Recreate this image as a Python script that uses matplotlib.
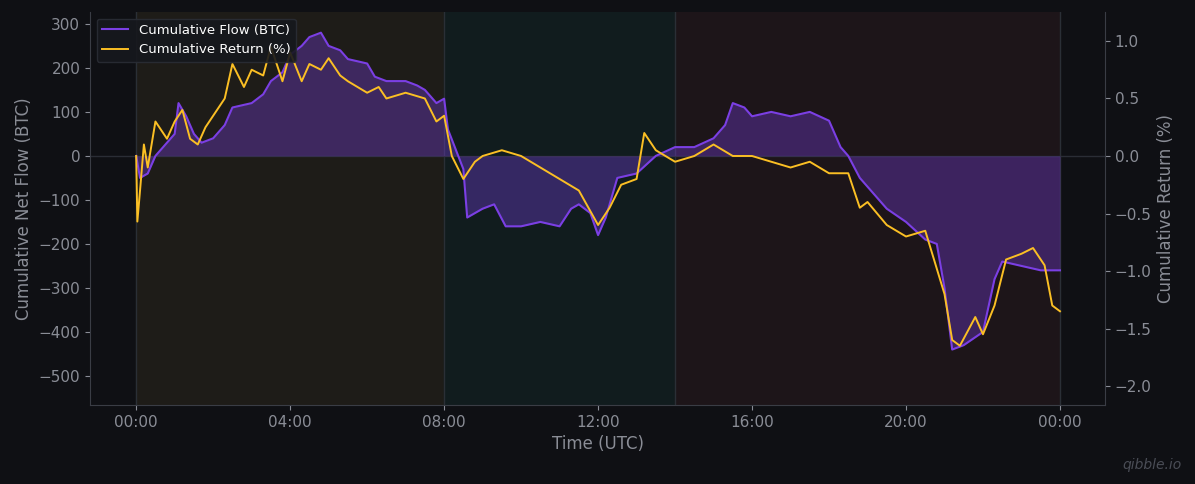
import matplotlib
matplotlib.use("Agg")
import matplotlib.pyplot as plt
import numpy as np

flow_t = [0.0,0.1,0.3,0.5,1.0,1.1,1.3,1.5,1.7,2.0,2.3,2.5,3.0,3.3,3.5,3.8,4.0,4.3,4.5,4.8,5.0,5.3,5.5,6.0,6.2,6.5,7.0,7.3,7.5,7.8,8.0,8.1,8.5,8.6,9.0,9.3,9.6,10.0,10.5,11.0,11.3,11.5,11.8,12.0,12.2,12.5,13.0,13.5,14.0,14.5,15.0,15.3,15.5,15.8,16.0,16.5,17.0,17.5,18.0,18.3,18.5,18.8,19.0,19.5,20.0,20.5,20.8,21.0,21.2,21.5,22.0,22.3,22.5,23.0,23.5,24.0]
flow_v = [0,-50,-40,0,50,120,90,50,30,40,70,110,120,140,170,190,230,250,270,280,250,240,220,210,180,170,170,160,150,120,130,60,-30,-140,-120,-110,-160,-160,-150,-160,-120,-110,-130,-180,-140,-50,-40,0,20,20,40,70,120,110,90,100,90,100,80,20,0,-50,-70,-120,-150,-190,-200,-300,-440,-430,-400,-280,-240,-250,-260,-260]
ret_t = [0.0,0.03,0.1,0.2,0.3,0.5,0.7,0.8,1.0,1.2,1.4,1.6,1.8,2.0,2.3,2.5,2.8,3.0,3.3,3.5,3.8,4.0,4.3,4.5,4.8,5.0,5.3,5.5,6.0,6.3,6.5,7.0,7.5,7.8,8.0,8.2,8.5,8.8,9.0,9.5,10.0,10.5,11.0,11.5,12.0,12.3,12.6,13.0,13.2,13.5,14.0,14.5,15.0,15.5,16.0,16.5,17.0,17.5,18.0,18.5,18.8,19.0,19.5,20.0,20.5,21.0,21.2,21.4,21.8,22.0,22.3,22.6,23.0,23.3,23.6,23.8,24.0]
ret_v = [0,-0.57,-0.3,0.1,-0.1,0.3,0.2,0.15,0.3,0.4,0.15,0.1,0.25,0.35,0.5,0.8,0.6,0.75,0.7,0.95,0.65,0.9,0.65,0.8,0.75,0.85,0.7,0.65,0.55,0.6,0.5,0.55,0.5,0.3,0.35,0.0,-0.2,-0.05,0.0,0.05,0.0,-0.1,-0.2,-0.3,-0.6,-0.45,-0.25,-0.2,0.2,0.05,-0.05,0.0,0.1,0.0,0.0,-0.05,-0.1,-0.05,-0.15,-0.15,-0.45,-0.4,-0.6,-0.7,-0.65,-1.2,-1.6,-1.65,-1.4,-1.55,-1.3,-0.9,-0.85,-0.8,-0.95,-1.3,-1.35]
sessions = [(0, 8, '#1e1c18'), (8, 14, '#111c1e'), (14, 24, '#1d1519')]
xticks = [0, 4, 8, 12, 16, 20, 24]
xticklabels = ['00:00','04:00','08:00','12:00','16:00','20:00','00:00']

bg = '#0f1014'
tc = '#8a8d96'
fig = plt.figure(figsize=(11.95, 4.84), dpi=100, facecolor=bg)
ax = fig.add_axes([90/1195, 1-405/484, (1105-90)/1195, (405-12)/484], facecolor=bg)
for a, b, c in sessions:
    ax.axvspan(a, b, color=c, zorder=0)
    ax.axvline(a, color='#2a2f36', lw=1, zorder=1)
ax.axvline(24, color='#2a2f36', lw=1, zorder=1)
ax.axhline(0, color='#2a2d35', lw=1, zorder=1)
ax.fill_between(flow_t, flow_v, 0, color='#7b3fe4', alpha=0.35, lw=0, zorder=2)
l1, = ax.plot(flow_t, flow_v, color='#7b3fe4', lw=1.5, zorder=3, label='Cumulative Flow (BTC)')
ax.set_xlim(-1.2, 25.17)
ax.set_ylim(-566, 327)
ax.set_yticks([-500,-400,-300,-200,-100,0,100,200,300])
ax.set_xticks(xticks)
ax.set_xticklabels(xticklabels)
ax.set_xlabel('Time (UTC)', color=tc, fontsize=12)
ax.set_ylabel('Cumulative Net Flow (BTC)', color=tc, fontsize=12)
ax2 = ax.twinx()
l2, = ax2.plot(ret_t, ret_v, color='#fbbf24', lw=1.4, zorder=4, label='Cumulative Return (%)')
ax2.set_ylim(-2.165, 1.252)
ax2.set_ylabel('Cumulative Return (%)', color=tc, fontsize=12)
for a in (ax, ax2):
    a.tick_params(colors=tc, labelsize=11)
    for s in a.spines.values():
        s.set_visible(False)
ax2.spines['right'].set_visible(True)
ax2.spines['right'].set_color('#3a3d45')
ax2.spines['left'].set_visible(True)
ax2.spines['left'].set_color('#3a3d45')
ax2.spines['bottom'].set_visible(True)
ax2.spines['bottom'].set_color('#3a3d45')
leg = ax2.legend(handles=[l1, l2], loc='upper left', fontsize=9.5, facecolor='#16181d', edgecolor='#2a2d35', labelcolor='white', framealpha=0.9)
fig.text(1182/1195, 1-465/484, 'qibble.io', color='#4a4d56', fontsize=10, style='italic', ha='right', va='center')
fig.savefig('out.png', dpi=100, facecolor=bg)
